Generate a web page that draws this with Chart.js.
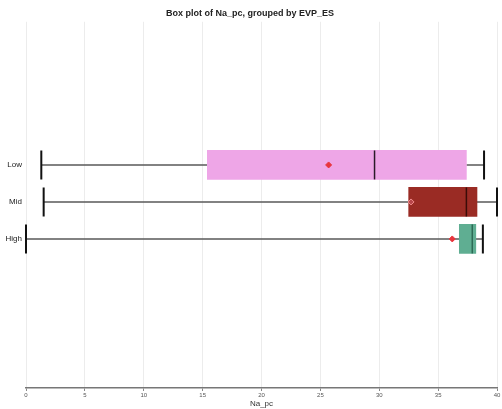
<!DOCTYPE html>
<html>
<head>
<meta charset="utf-8">
<script src="https://cdn.jsdelivr.net/npm/chart.js@4/dist/chart.umd.min.js"></script>
<style>
  body { margin: 0; background: #fff; }
  #wrap { width: 502px; height: 409px; }
</style>
</head>
<body>
<div id="wrap"><canvas id="boxCanvas" width="502" height="409"></canvas></div>
<script>
// box plot stats
const groups = ["Low", "Mid", "High"];
const whiskerLow = [1.3, 1.5, 0.0];
const q1 = [15.4, 32.5, 36.8];
const median = [29.6, 37.4, 37.9];
const q3 = [37.4, 38.3, 38.2];
const whiskerHigh = [38.9, 40.0, 38.8];
const means = [25.7, 32.7, 36.2];
const xTicks = [0, 5, 10, 15, 20, 25, 30, 35, 40];

const boxColors = ["#eea6e7", "#9a2b24", "#5fae92"];
const medianColors = ["#2a1a28", "#3a0c08", "#2c6a55"];

// whiskers, caps and medians drawn with the chart's own scales
const whiskerPlugin = {
  id: "whiskers",
  beforeDatasetsDraw(chart) {
    const { ctx, scales } = chart;
    const xs = scales.x, ys = scales.y;
    ctx.save();
    groups.forEach((g, i) => {
      const y = ys.getPixelForValue(i);
      const half = 14.5;
      ctx.strokeStyle = "#5a5a5a";
      ctx.lineWidth = 1.4;
      ctx.beginPath();
      ctx.moveTo(xs.getPixelForValue(whiskerLow[i]), y);
      ctx.lineTo(xs.getPixelForValue(q1[i]), y);
      ctx.moveTo(xs.getPixelForValue(q3[i]), y);
      ctx.lineTo(xs.getPixelForValue(whiskerHigh[i]), y);
      ctx.stroke();
      ctx.strokeStyle = "#111";
      ctx.lineWidth = 2;
      ctx.beginPath();
      [whiskerLow[i], whiskerHigh[i]].forEach(v => {
        const px = xs.getPixelForValue(v);
        ctx.moveTo(px, y - half);
        ctx.lineTo(px, y + half);
      });
      ctx.stroke();
    });
    ctx.restore();
  },
  afterDatasetDraw(chart, args) {
    if (args.index !== 0) return;
    const { ctx, scales } = chart;
    ctx.save();
    groups.forEach((g, i) => {
      const y = scales.y.getPixelForValue(i);
      const px = scales.x.getPixelForValue(median[i]);
      ctx.strokeStyle = medianColors[i];
      ctx.lineWidth = 1.5;
      ctx.beginPath();
      ctx.moveTo(px, y - 14.5);
      ctx.lineTo(px, y + 14.5);
      ctx.stroke();
    });
    ctx.restore();
  }
};

new Chart(document.getElementById("boxCanvas"), {
  type: "bar",
  data: {
    datasets: [
      {
        type: "bar",
        data: groups.map((g, i) => ({ y: i, x: [q1[i], q3[i]] })),
        backgroundColor: boxColors,
        borderWidth: 0,
        barThickness: 29,
        order: 2
      },
      {
        type: "scatter",
        data: groups.map((g, i) => ({ y: i, x: means[i] })),
        pointStyle: "rectRot",
        pointRadius: 3,
        backgroundColor: ["#e8343c", "#b8464a", "#e8343c"],
        borderColor: ["#e8343c", "#f08a8a", "#e8343c"],
        borderWidth: 1,
        order: 1
      }
    ]
  },
  options: {
    responsive: false,
    animation: false,
    indexAxis: "y",
    layout: { padding: { left: 0, right: 2, top: 0, bottom: 0 } },
    plugins: {
      legend: { display: false },
      tooltip: { enabled: false },
      title: {
        display: true,
        text: "Box plot of Na_pc, grouped by EVP_ES",
        color: "#222",
        font: { family: "Liberation Sans, Arial, sans-serif", size: 9, weight: "bold" },
        padding: { top: 8, bottom: 3 }
      }
    },
    scales: {
      x: {
        type: "linear",
        min: 0,
        max: 40,
        offset: false,
        afterBuildTicks(scale) { scale.ticks = xTicks.map(v => ({ value: v })); },
        afterFit(scale) { scale.height = 21; scale.paddingRight = 0; scale.paddingLeft = 0; },
        grid: {
          color: "#ececec",
          lineWidth: 1,
          drawTicks: true,
          tickLength: 3,
          tickColor: "#888"
        },
        border: { display: true, color: "#777", width: 1.5 },
        ticks: {
          color: "#555",
          font: { family: "Liberation Sans, Arial, sans-serif", size: 6 },
          padding: 1,
          maxRotation: 0
        },
        title: {
          display: true,
          text: "Na_pc",
          color: "#333",
          font: { family: "Liberation Sans, Arial, sans-serif", size: 8 },
          padding: { top: 0, bottom: 0 }
        }
      },
      y: {
        type: "linear",
        min: -3.87,
        max: 6.03,
        reverse: true,
        offset: false,
        afterBuildTicks(scale) { scale.ticks = groups.map((g, i) => ({ value: i })); },
        afterFit(scale) { scale.width = 26; },
        grid: { display: false, drawTicks: false, tickLength: 0 },
        border: { display: false },
        ticks: {
          color: "#222",
          font: { family: "Liberation Sans, Arial, sans-serif", size: 8 },
          padding: 4,
          callback: (v) => groups[v]
        }
      }
    }
  },
  plugins: [whiskerPlugin]
});
</script>
</body>
</html>
